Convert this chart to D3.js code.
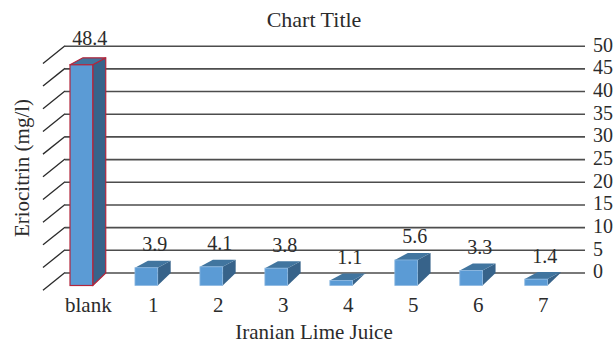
<!DOCTYPE html>
<html>
<head>
<meta charset="utf-8">
<script src="https://cdn.jsdelivr.net/npm/d3@7/dist/d3.min.js"></script>
<style>
html, body { margin: 0; padding: 0; background: #fff; }
svg { display: block; }
text { font-family: "Liberation Serif", serif; fill: #2b2b2b; }
</style>
</head>
<body>
<svg id="chart" width="614" height="344"></svg>
<script>
// Eriocitrin content per sample
const categories = ["blank", "1", "2", "3", "4", "5", "6", "7"];
const eriocitrin = [48.4, 3.9, 4.1, 3.8, 1.1, 5.6, 3.3, 1.4];
const tickValues = [0, 5, 10, 15, 20, 25, 30, 35, 40, 45, 50];

const svg = d3.select("#chart");

// Back wall scale for the gridlines, front scale for the bar faces,
// and a third for the baselines of the value labels
const yBack = d3.scaleLinear().domain([0, 50]).range([272.5, 45.7]);
const yFront = d3.scaleLinear().domain([0, 50]).range([285.5, 57.5]);
const yLabel = d3.scaleLinear().domain([0, 50]).range([269.3, 37.6]);
const x = d3.scaleBand().domain(categories).range([70, 547.5]).paddingInner(0.65).paddingOuter(0);

const wallLeft = 65, wallRight = 585;
const floorDx = 22, floorDy = 17.7;
const depthX = 13, depthTop = 7, depthBottom = 12.5;

const blue = "#5b9bd5", blueSide = "#37638a", blueTop = "#41759f";
const red = "#b3263c";
const digitSize = 20, wordSize = 21;

// Gridlines and right-hand value labels
const axis = d3.axisRight(yBack)
  .tickValues(tickValues)
  .tickSize(wallLeft - wallRight)
  .tickPadding(8)
  .tickFormat(d3.format("d"));

const axisG = svg.append("g").attr("transform", `translate(${wallRight},0)`).call(axis);
axisG.select(".domain").remove();
axisG.selectAll("line").attr("stroke", "#4d4d4d").attr("stroke-width", 1.6);
axisG.selectAll("text").attr("font-size", digitSize).attr("fill", "#2b2b2b").attr("dy", "0.27em")
  .style("font-family", '"Liberation Serif", serif');

// Slanted side wall strokes
svg.append("g").selectAll("line").data(tickValues).join("line")
  .attr("x1", wallLeft - floorDx)
  .attr("x2", wallLeft)
  .attr("y1", d => yBack(d) + floorDy)
  .attr("y2", d => yBack(d))
  .attr("stroke", "#2a2a2a")
  .attr("stroke-width", 1.3);

// 3D columns: side, top and front faces
const rows = categories.map((c, i) => ({ c, v: eriocitrin[i] }));
const bars = svg.append("g").selectAll("g").data(rows).join("g");
const stroke = d => d.c === "blank" ? red : "none";
const faceStroke = d => d.c === "blank" ? red : "#8db9e2";
const strokeW = d => d.c === "blank" ? 1.2 : 0.8;

bars.append("path")
  .attr("d", d => {
    const x1 = x(d.c) + x.bandwidth(), top = yFront(d.v), base = yFront(0);
    return `M${x1},${top}L${x1 + depthX},${top - depthTop}L${x1 + depthX},${base - depthBottom}L${x1},${base}Z`;
  })
  .attr("fill", blueSide).attr("stroke", stroke).attr("stroke-width", strokeW).attr("stroke-linejoin", "round");

bars.append("path")
  .attr("d", d => {
    const x0 = x(d.c), x1 = x0 + x.bandwidth(), top = yFront(d.v);
    return `M${x0},${top}L${x0 + depthX},${top - depthTop}L${x1 + depthX},${top - depthTop}L${x1},${top}Z`;
  })
  .attr("fill", blueTop).attr("stroke", stroke).attr("stroke-width", strokeW).attr("stroke-linejoin", "round");

bars.append("rect")
  .attr("x", d => x(d.c))
  .attr("y", d => yFront(d.v))
  .attr("width", x.bandwidth())
  .attr("height", d => yFront(0) - yFront(d.v))
  .attr("fill", blue).attr("stroke", faceStroke).attr("stroke-width", strokeW);

// Value labels above each column
svg.append("g").selectAll("text").data(rows).join("text")
  .attr("x", d => x(d.c) + x.bandwidth() / 2 + 8.5)
  .attr("y", d => yLabel(d.v))
  .attr("text-anchor", "middle")
  .attr("font-size", digitSize)
  .text(d => d.v.toFixed(1));

// Category labels along the floor
svg.append("g").selectAll("text").data(categories).join("text")
  .attr("x", d => x(d) + x.bandwidth() / 2 + 7)
  .attr("y", 312)
  .attr("text-anchor", "middle")
  .attr("font-size", wordSize)
  .text(d => d);

// Titles
svg.append("text").attr("x", 314).attr("y", 27).attr("text-anchor", "middle")
  .attr("font-size", 22).text("Chart Title");
svg.append("text").attr("x", 314).attr("y", 339.4).attr("text-anchor", "middle")
  .attr("font-size", wordSize).text("Iranian Lime Juice");
svg.append("text").attr("transform", "translate(28.5,168) rotate(-90)").attr("text-anchor", "middle")
  .attr("font-size", wordSize).text("Eriocitrin (mg/l)");
</script>
</body>
</html>
